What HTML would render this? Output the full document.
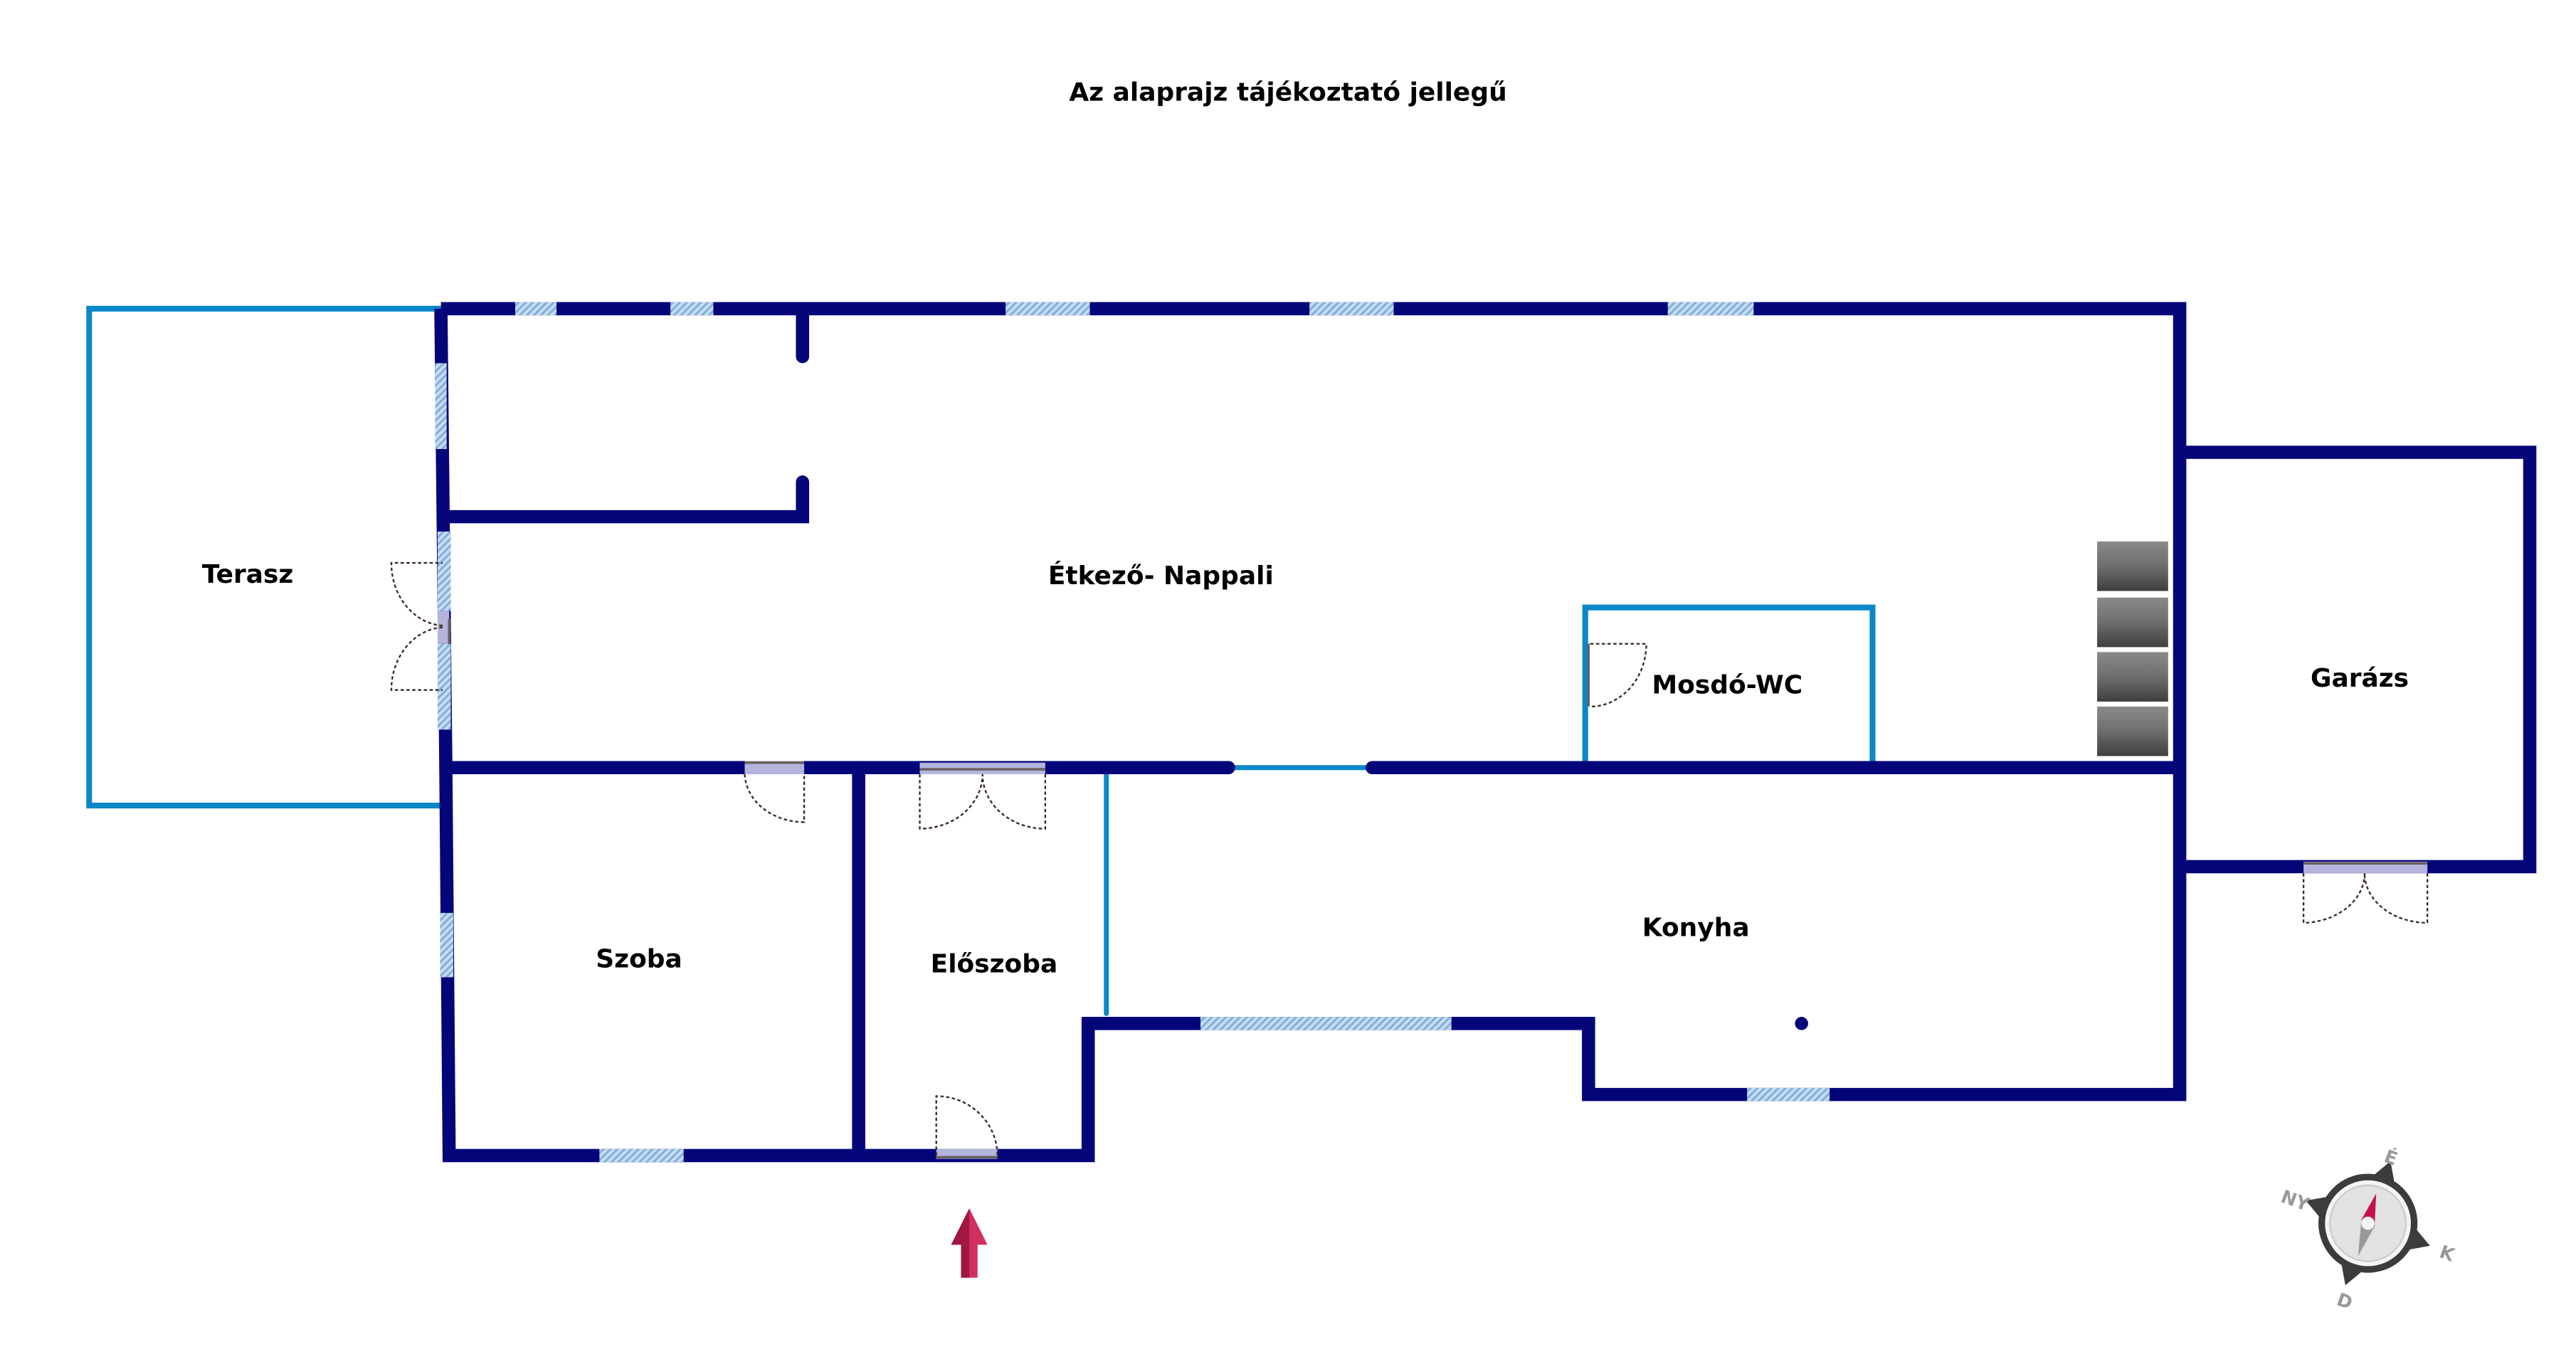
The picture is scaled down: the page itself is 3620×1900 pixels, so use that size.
<!DOCTYPE html>
<html><head><meta charset="utf-8"><style>
html,body{margin:0;padding:0;background:#fff;}
svg{display:block;}
text{font-family:"DejaVu Sans","Liberation Sans",sans-serif;font-weight:bold;fill:#000;}
</style></head><body>
<svg width="3620" height="1900" viewBox="0 0 1560 819" preserveAspectRatio="none" xmlns="http://www.w3.org/2000/svg">
<defs>
<pattern id="h" patternUnits="userSpaceOnUse" width="3" height="3" patternTransform="rotate(45)">
<rect width="3" height="3" fill="#c8dcf0"/><rect width="1.3" height="3" fill="#7fb0dc"/>
</pattern>
<linearGradient id="st" x1="0" y1="0" x2="0" y2="1"><stop offset="0" stop-color="#8a8a8a"/><stop offset="0.5" stop-color="#6e6e6e"/><stop offset="1" stop-color="#3e3e3e"/></linearGradient>
</defs>
<text x="780" y="61" font-size="15.5" text-anchor="middle">Az alaprajz tájékoztató jellegű</text>

<polyline points="267,187 54,187 54,488 269,488" fill="none" stroke="#0a87c8" stroke-width="3.5"/>
<g stroke="#0a87c8" stroke-width="3" fill="none">
<line x1="744" y1="465" x2="831" y2="465"/>
<line x1="670" y1="465" x2="670" y2="614" stroke-linecap="round"/>
<polyline points="960,465 960,368 1134,368 1134,465" stroke-width="3.5"/>
</g>
<g stroke="#05057a" stroke-width="8" fill="none" stroke-linejoin="miter">
<polyline points="267,187 1320,187 1320,663 962,663 962,620 659,620 659,700 272,700 270,465 267,187"/>
<polyline points="1320,274 1532,274 1532,525 1320,525"/>
<line x1="270" y1="465" x2="744" y2="465" stroke-linecap="round"/>
<line x1="831" y1="465" x2="1320" y2="465" stroke-linecap="round"/>
<polyline points="270,313 486,313 486,292" stroke-linecap="round"/>
<line x1="486" y1="190" x2="486" y2="216" stroke-linecap="round"/>
<line x1="520" y1="465" x2="520" y2="700"/>
</g>
<g fill="url(#h)">
<rect x="312" y="183" width="25" height="8"/>
<rect x="406" y="183" width="26" height="8"/>
<rect x="609" y="183" width="51" height="8"/>
<rect x="793" y="183" width="51" height="8"/>
<rect x="1010" y="183" width="52" height="8"/>
<rect x="263.5" y="220" width="7" height="52"/>
<rect x="265" y="322" width="8" height="48"/>
<rect x="265" y="390" width="8" height="52"/>
<rect x="266.5" y="553" width="8" height="39"/>
<rect x="363" y="696" width="51" height="8"/>
<rect x="727" y="616" width="152" height="8"/>
<rect x="1058" y="659" width="50" height="8"/>
</g>
<g fill="#b4b4dc" stroke="none">
<rect x="451" y="461" width="36" height="8"/>
<rect x="557" y="462" width="76" height="7"/>
<rect x="567" y="696" width="37" height="6"/>
<rect x="265" y="370" width="7" height="20"/>
<rect x="1395" y="522" width="75" height="7"/>
</g>
<g stroke="#6a6060" stroke-width="1.5">
<line x1="451" y1="462" x2="487" y2="462"/>
<line x1="557" y1="466" x2="633" y2="466"/>
<line x1="567" y1="701" x2="604" y2="701"/>
<line x1="272" y1="375" x2="272" y2="390"/>
<line x1="962" y1="390" x2="962" y2="428"/>
<line x1="1395" y1="523" x2="1470" y2="523"/>
</g>
<g fill="none" stroke="#3a2a20" stroke-width="1" stroke-dasharray="2,1.5">
<path d="M451,469 A36,30 0 0 0 487,498 L487,469"/>
<path d="M557,469 L557,502 A38,33 0 0 0 595,469"/>
<path d="M633,469 L633,502 A38,33 0 0 1 595,469"/>
<path d="M567,700 L567,664 A37,36 0 0 1 604,700"/>
<path d="M268,379 A33,38 0 0 1 237,341 L268,341"/>
<path d="M268,380 A33,38 0 0 0 237,418 L268,418"/>
<path d="M963,390 L997,390 A34,38 0 0 1 963,428"/>
<path d="M1395,529 L1395,559 A38,30 0 0 0 1432,529"/>
<path d="M1470,529 L1470,559 A38,30 0 0 1 1432,529"/>
</g>
<g fill="url(#st)">
<rect x="1270" y="328" width="43" height="30"/>
<rect x="1270" y="362" width="43" height="30"/>
<rect x="1270" y="395" width="43" height="30"/>
<rect x="1270" y="428" width="43" height="30"/>
</g>
<circle cx="1091" cy="620" r="4" fill="#05057a"/>
<g font-size="15.5" text-anchor="middle">
<text x="150" y="353">Terasz</text>
<text x="703" y="354">Étkező- Nappali</text>
<text x="1046" y="420">Mosdó-WC</text>
<text x="1429" y="416">Garázs</text>
<text x="387" y="586">Szoba</text>
<text x="602" y="589">Előszoba</text>
<text x="1027" y="567">Konyha</text>
</g>
<polygon points="587,732 598,754 592,754 592,774 582,774 582,754 576,754" fill="#d03060"/>
<polygon points="587,732 587,774 582,774 582,754 576,754" fill="#a01840"/>
<g transform="translate(1434,741)">
<g transform="rotate(20)" fill="#3c3c3c">
<polygon points="-7,-28 0,-40 7,-28"/><polygon points="-7,28 0,40 7,28"/>
<polygon points="-28,-7 -40,0 -28,7"/><polygon points="28,-7 40,0 28,7"/>
</g>
<circle r="30" fill="#3c3c3c"/>
<circle r="26" fill="#f4f4f4"/>
<circle r="23" fill="#e2e2e2" stroke="#cccccc" stroke-width="1"/>
<polygon points="-4,-2 4,2 5,-18" fill="#c8104c"/>
<polygon points="-4,-2 4,2 -6,20" fill="#9a9a9a"/>
<circle r="4" fill="#f4f4f4"/>
<text x="14" y="-36" font-size="11" style="fill:#999" text-anchor="middle" transform="rotate(20 14 -40)">É</text>
<text x="-44" y="-10" font-size="11" style="fill:#999" text-anchor="middle" transform="rotate(20 -44 -14)">NY</text>
<text x="48" y="22" font-size="11" style="fill:#999" text-anchor="middle" transform="rotate(20 48 18)">K</text>
<text x="-14" y="51" font-size="11" style="fill:#999" text-anchor="middle" transform="rotate(20 -14 47)">D</text>
</g>
</svg>
</body></html>
